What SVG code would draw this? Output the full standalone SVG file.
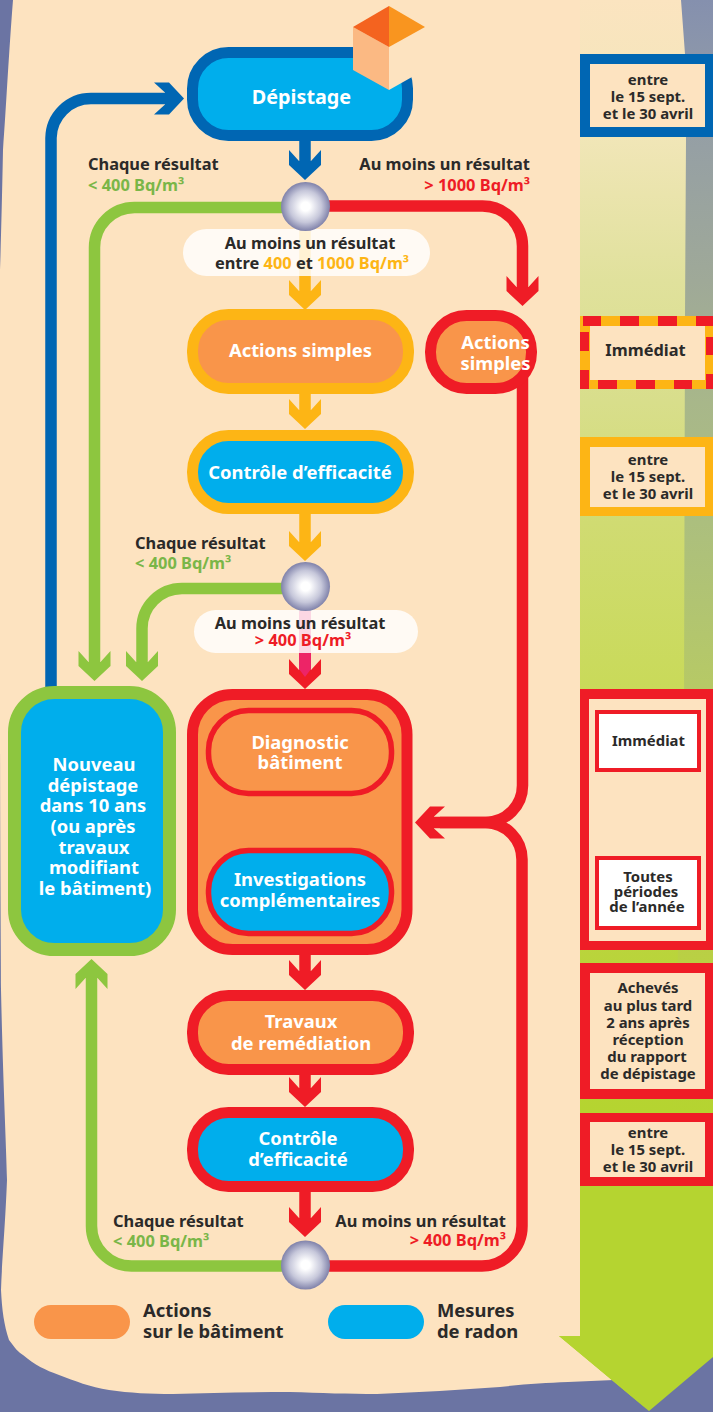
<svg xmlns="http://www.w3.org/2000/svg" width="713" height="1412" viewBox="0 0 713 1412">
<style>
text{font-family:"Noto Sans","Open Sans","Liberation Sans",sans-serif;font-weight:700;text-anchor:middle;fill:#2b2a29}
.w{fill:#fff}.l{text-anchor:start}.e{text-anchor:end}
.s{font-size:16.4px}.m{font-size:18.4px}.t{font-size:14.9px}
.gt{fill:#7ab648}.rt{fill:#ee1c25}.yt{fill:#fdb515}
.ln{fill:none;stroke-width:11.5}
.blue{stroke:#0066b3}.red{stroke:#ef1c26}.yel{stroke:#fdb515}.grn{stroke:#8dc63f}
.box{stroke-width:11}.o{fill:#f9954a}.c{fill:#00aeec}
.tb{fill:#fde3c0}
</style>
<defs>
<linearGradient id="colA" gradientUnits="userSpaceOnUse" x1="0" y1="0" x2="0" y2="1340">
<stop offset="0" stop-color="#fbe4c0"/><stop offset=".1" stop-color="#f1e6b8"/><stop offset=".21" stop-color="#e0e19c"/><stop offset=".3" stop-color="#d8de8b"/><stop offset=".39" stop-color="#d0db72"/><stop offset=".51" stop-color="#c9da5a"/><stop offset=".72" stop-color="#b9d43a"/><stop offset=".83" stop-color="#b5d430"/>
</linearGradient>
<linearGradient id="colB" gradientUnits="userSpaceOnUse" x1="0" y1="0" x2="0" y2="1340">
<stop offset="0" stop-color="#8590ae"/><stop offset=".1" stop-color="#959fa5"/><stop offset=".21" stop-color="#9fa998"/><stop offset=".3" stop-color="#a8b78a"/><stop offset=".39" stop-color="#acbf7e"/><stop offset=".51" stop-color="#b6c966"/><stop offset=".72" stop-color="#b9d043"/><stop offset=".83" stop-color="#b5d430"/>
</linearGradient>
<radialGradient id="ball"><stop offset="0" stop-color="#fff"/><stop offset=".18" stop-color="#fff"/><stop offset=".65" stop-color="#c6c7da"/><stop offset="1" stop-color="#8082aa"/></radialGradient>
<path id="head" d="M0,0L-15,-16H-30L-19,-6V6L-30,16H-15Z"/>
<marker id="aB" markerUnits="userSpaceOnUse" markerWidth="34" markerHeight="34" viewBox="-31 -17 34 34" refX="-9" refY="0" orient="auto"><use href="#head" fill="#0066b3"/></marker>
<marker id="aR" markerUnits="userSpaceOnUse" markerWidth="34" markerHeight="34" viewBox="-31 -17 34 34" refX="-9" refY="0" orient="auto"><use href="#head" fill="#ef1c26"/></marker>
<marker id="aY" markerUnits="userSpaceOnUse" markerWidth="34" markerHeight="34" viewBox="-31 -17 34 34" refX="-9" refY="0" orient="auto"><use href="#head" fill="#fdb515"/></marker>
<marker id="aG" markerUnits="userSpaceOnUse" markerWidth="34" markerHeight="34" viewBox="-31 -17 34 34" refX="-9" refY="0" orient="auto"><use href="#head" fill="#8dc63f"/></marker>
</defs>

<g id="background">
<rect width="713" height="1412" fill="#6b74a3"/>
<path d="M13,0C9,50 6,110 3,150C2,200 1,240 0,270L0,700C0,850 1,950 1,990C3,1080 6,1140 7,1180C5,1230 2,1260 1,1290C2,1310 4,1325 9,1340C15,1348 18,1352 23,1355C35,1365 45,1370 59,1375C75,1381 90,1387 109,1390C130,1393 150,1394 173,1394C210,1393 250,1392 290,1392C320,1393 350,1394 377,1394C420,1392 460,1390 500,1387C525,1384 545,1383 568,1382L614,1380L700,1300V0Z" fill="#fde3c0"/>
<polygon points="580,0 713,0 713,1357 649,1411 559,1336 580,1336" fill="url(#colB)"/>
<path d="M580,0H681L685,54L686,140L685,316L684,700L678,950L673,1100L670,1186L660,1300C655,1350 635,1372 614,1380L649,1411L559,1336H580Z" fill="url(#colA)"/>
</g>

<g id="connectors">
<path class="ln blue" d="M51,690V138A40,40 0 0 1 91,98.500H175" marker-end="url(#aB)"/>
<path class="ln blue" d="M305,141V171" marker-end="url(#aB)"/>
<path class="ln grn" d="M285,207.500H134.500A40,40 0 0 0 94.500,247.500V672" marker-end="url(#aG)"/>
<path class="ln red" d="M326,206H482.500A40,40 0 0 1 522.500,246V297" marker-end="url(#aR)"/>
<path class="ln yel" d="M305,225V301" marker-end="url(#aY)"/>
<path class="ln yel" d="M305,394V420" marker-end="url(#aY)"/>
<path class="ln yel" d="M305,514V552" marker-end="url(#aY)"/>
<path class="ln grn" d="M285,588.500H182A40,40 0 0 0 142,628.500V672" marker-end="url(#aG)"/>
<path class="ln red" d="M305,640V680" marker-end="url(#aR)"/>
<path fill="#ed2467" d="M299,611H311V669L305,677L299,669Z"/>
<path class="ln red" d="M522.500,370V785.500A37,37 0 0 1 485.500,822.500H424" marker-end="url(#aR)"/>
<path class="ln red" d="M325,1266H482A40,40 0 0 0 522,1226V859.500A37,37 0 0 0 485.500,822.500H440"/>
<path class="ln red" d="M305,955V981" marker-end="url(#aR)"/>
<path class="ln red" d="M305,1075V1098" marker-end="url(#aR)"/>
<path class="ln red" d="M305,1192V1228" marker-end="url(#aR)"/>
<path class="ln grn" d="M285,1266H131.500A40,40 0 0 1 91.500,1226V968" marker-end="url(#aG)"/>
</g>

<g id="label-entre"><rect x="183" y="229" width="247" height="47" rx="23.500" fill="#fff" fill-opacity=".82"/>
<text class="s" x="310" y="249">Au moins un résultat</text>
<text class="s" x="312" y="269">entre <tspan class="yt">400</tspan> et <tspan class="yt">1000 Bq/m³</tspan></text></g>
<g id="label-sup400"><rect x="194" y="610" width="224" height="43" rx="21.500" fill="#fff" fill-opacity=".82"/>
<text class="s" x="300" y="629">Au moins un résultat</text>
<text class="s rt" x="303" y="646">&gt; 400 Bq/m³</text></g>

<g id="junction-1"><circle cx="305.500" cy="206.500" r="24.500" fill="url(#ball)"/></g>
<g id="junction-2"><circle cx="305.500" cy="586.500" r="24.500" fill="url(#ball)"/></g>
<g id="junction-3"><circle cx="305.500" cy="1265" r="24.500" fill="url(#ball)"/></g>

<g id="depistage">
<rect class="box blue c" x="192.500" y="52.500" width="215" height="83" rx="36"/>
<polygon points="389,42 420,42 420,74 412,77 389,90" fill="#fde3c0"/>
<polygon points="353,27 389,47 389,90 353,70" fill="#fbb983"/>
<polygon points="353,27 389,6 389,47" fill="#f4631f"/>
<polygon points="389,6 425,27 389,47" fill="#f9951f"/>
<text class="w" x="301.500" y="104" font-size="19.800">Dépistage</text>
</g>
<g id="actions-simples"><rect class="box yel o" x="192.500" y="314.500" width="216" height="74" rx="36"/><text class="w m" x="300.500" y="357">Actions simples</text></g>
<g id="actions-simples-urgent"><rect class="box red o" x="430.500" y="315.500" width="101" height="73" rx="36"/><text class="w m" x="495.500" y="349">Actions</text><text class="w m" x="495.500" y="370">simples</text></g>
<g id="controle-1"><rect class="box yel c" x="192.500" y="435.500" width="216" height="73" rx="36"/><text class="w m" x="300" y="479">Contrôle d’efficacité</text></g>
<g id="nouveau"><rect x="14.500" y="692.500" width="155" height="257" rx="40" class="c" stroke="#8dc63f" stroke-width="13"/>
<text class="w m" x="94" y="771">Nouveau</text><text class="w m" x="93" y="792">dépistage</text><text class="w m" x="93" y="812">dans 10 ans</text><text class="w m" x="93" y="833">(ou après</text><text class="w m" x="94" y="854">travaux</text><text class="w m" x="94" y="874">modifiant</text><text class="w m" x="95" y="895">le bâtiment)</text></g>
<g id="diagnostic-groupe"><rect class="box red o" x="192.500" y="694.500" width="214.500" height="255" rx="40"/></g>
<g id="diagnostic"><rect x="208.500" y="710.500" width="183" height="83" rx="40" class="o" stroke="#ef1c26" stroke-width="5.500"/><text class="w m" x="300" y="749">Diagnostic</text><text class="w m" x="300" y="769">bâtiment</text></g>
<g id="investigations"><rect x="208.500" y="850.500" width="183" height="83" rx="40" class="c" stroke="#ef1c26" stroke-width="5.500"/><text class="w m" x="300" y="886">Investigations</text><text class="w m" x="300" y="907">complémentaires</text></g>
<g id="travaux"><rect class="box red o" x="192.500" y="995.500" width="216" height="74" rx="36"/><text class="w m" x="301" y="1028">Travaux</text><text class="w m" x="301" y="1050">de remédiation</text></g>
<g id="controle-2"><rect class="box red c" x="192.500" y="1112.500" width="216" height="74" rx="36"/><text class="w m" x="298" y="1145">Contrôle</text><text class="w m" x="298" y="1166">d’efficacité</text></g>

<g id="labels">
<text class="s l" x="88" y="170">Chaque résultat</text><text class="s l gt" x="88" y="191">&lt; 400 Bq/m³</text>
<text class="s e" x="530" y="170">Au moins un résultat</text><text class="s e rt" x="530" y="191">&gt; 1000 Bq/m³</text>
<text class="s l" x="135" y="549">Chaque résultat</text><text class="s l gt" x="135" y="569">&lt; 400 Bq/m³</text>
<text class="s l" x="113" y="1227">Chaque résultat</text><text class="s l gt" x="113" y="1247">&lt; 400 Bq/m³</text>
<text class="s e" x="506" y="1227">Au moins un résultat</text><text class="s e rt" x="506" y="1246">&gt; 400 Bq/m³</text>
</g>

<g id="legend">
<rect x="34" y="1305" width="96" height="34" rx="17" class="o"/><text class="m l" x="143" y="1317">Actions</text><text class="m l" x="143" y="1338">sur le bâtiment</text>
<rect x="328" y="1305" width="96" height="34" rx="17" class="c"/><text class="m l" x="437" y="1317">Mesures</text><text class="m l" x="437" y="1338">de radon</text>
</g>

<g id="time-1"><rect x="580" y="54" width="133" height="83" fill="#0066b3"/><rect x="590" y="64" width="115" height="63" class="tb"/>
<text class="t" x="648" y="85">entre</text><text class="t" x="648" y="102">le 15 sept.</text><text class="t" x="648" y="119">et le 30 avril</text></g>
<g id="time-2"><rect x="580" y="316" width="133" height="73" fill="#fdb515"/>
<path fill="#ef1c26" d="M583,316h18v10h-18zM620,316h19v10h-19zM658,316h19v10h-19zM696,316h17v10h-17zM598,380h19v9h-19zM636,380h19v9h-19zM674,380h18v9h-18zM580,332h9v19h-9zM580,370h9v19h-9zM706,337h7v18h-7zM706,374h7v15h-7z"/>
<rect x="590" y="326" width="115" height="54" class="tb"/>
<text x="645.500" y="356" font-size="16.400">Immédiat</text></g>
<g id="time-3"><rect x="580" y="437" width="133" height="79" fill="#fdb515"/><rect x="590" y="447" width="115" height="60" class="tb"/>
<text class="t" x="648" y="465">entre</text><text class="t" x="648" y="482">le 15 sept.</text><text class="t" x="648" y="499">et le 30 avril</text></g>
<g id="time-4"><rect x="580" y="689" width="133" height="261" fill="#ef1c26"/><rect x="589" y="699" width="117" height="242" class="tb"/>
<rect x="597" y="712" width="102" height="58" fill="#fff" stroke="#ef1c26" stroke-width="4"/><text class="t" x="648.500" y="746">Immédiat</text>
<rect x="597" y="858" width="102" height="70" fill="#fff" stroke="#ef1c26" stroke-width="4"/><text class="t" x="648" y="882">Toutes</text><text class="t" x="646" y="897">périodes</text><text class="t" x="647" y="912">de l’année</text></g>
<g id="time-5"><rect x="580" y="963" width="133" height="136" fill="#ef1c26"/><rect x="590" y="973" width="115" height="116" class="tb"/>
<text class="t" x="648" y="993">Achevés</text><text class="t" x="648" y="1011">au plus tard</text><text class="t" x="648" y="1028">2 ans après</text><text class="t" x="648" y="1045">réception</text><text class="t" x="647" y="1062">du rapport</text><text class="t" x="648" y="1079">de dépistage</text></g>
<g id="time-6"><rect x="580" y="1113" width="133" height="73" fill="#ef1c26"/><rect x="590" y="1122" width="115" height="55" class="tb"/>
<text class="t" x="648" y="1138">entre</text><text class="t" x="648" y="1155">le 15 sept.</text><text class="t" x="648" y="1172">et le 30 avril</text></g>
</svg>
